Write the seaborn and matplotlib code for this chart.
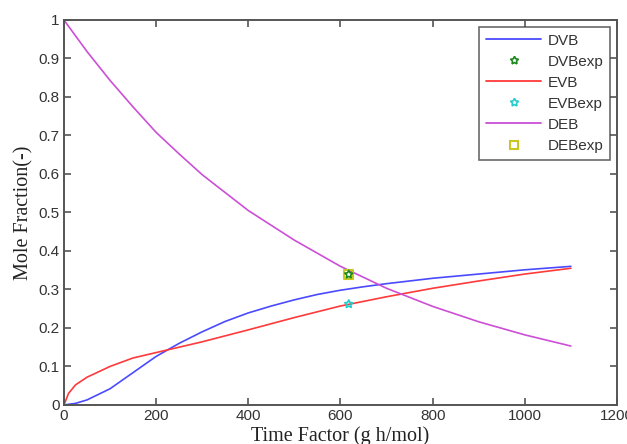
import matplotlib
matplotlib.use("Agg")
import matplotlib.pyplot as plt
from matplotlib.lines import Line2D
import numpy as np
import pandas as pd
import seaborn as sns

# Model curves: mole fraction versus time factor (g h/mol)
time_dvb = [0, 25, 50, 100, 150, 200, 250, 300, 350, 400, 450, 500, 550, 600, 650, 700, 800, 900, 1000, 1100]
dvb = [0.0, 0.004, 0.013, 0.042, 0.084, 0.126, 0.160, 0.190, 0.217, 0.239, 0.257, 0.273, 0.287, 0.298, 0.307, 0.315, 0.329, 0.340, 0.351, 0.360]

time_evb = [0, 10, 25, 50, 100, 150, 200, 250, 300, 400, 500, 600, 700, 800, 900, 1000, 1100]
evb = [0.0, 0.030, 0.052, 0.072, 0.100, 0.122, 0.136, 0.150, 0.164, 0.195, 0.227, 0.257, 0.281, 0.303, 0.322, 0.340, 0.355]

time_deb = [0, 50, 100, 150, 200, 250, 300, 400, 500, 600, 700, 800, 900, 1000, 1100]
deb = [1.0, 0.918, 0.843, 0.774, 0.708, 0.652, 0.598, 0.505, 0.428, 0.360, 0.303, 0.256, 0.216, 0.182, 0.153]

# Experimental points
exp_time = [618]
dvb_exp = [0.339]
evb_exp = [0.262]
deb_exp = [0.339]

x_ticks = [0, 200, 400, 600, 800, 1000, 1200]
x_tick_labels = ["0", "200", "400", "600", "800", "1000", "1200"]
y_ticks = [0, 0.1, 0.2, 0.3, 0.4, 0.5, 0.6, 0.7, 0.8, 0.9, 1]
y_tick_labels = ["0", "0.1", "0.2", "0.3", "0.4", "0.5", "0.6", "0.7", "0.8", "0.9", "1"]

sns.set_style("ticks")
plt.rcParams["font.family"] = ["Liberation Sans", "DejaVu Sans"]

fig = plt.figure(figsize=(6.27, 4.44), dpi=100)
ax = fig.add_axes([0.102, 0.088, 0.882, 0.867])

c_dvb = "#4a4aff"
c_evb = "#ff3a3a"
c_deb = "#cc4fd6"
c_dvb_exp = "#1a8a1a"
c_evb_exp = "#22cccc"
c_deb_exp = "#c8c820"

sns.lineplot(x=time_dvb, y=dvb, ax=ax, color=c_dvb, lw=1.2)
sns.lineplot(x=time_evb, y=evb, ax=ax, color=c_evb, lw=1.2)
sns.lineplot(x=time_deb, y=deb, ax=ax, color=c_deb, lw=1.2)

sns.scatterplot(x=exp_time, y=deb_exp, ax=ax, marker="s", s=45,
                facecolor="none", edgecolor=c_deb_exp, linewidth=1.5, zorder=4)
sns.scatterplot(x=exp_time, y=dvb_exp, ax=ax, marker=(5, 1, 0), s=35,
                facecolor="none", edgecolor=c_dvb_exp, linewidth=1.2, zorder=5)
sns.scatterplot(x=exp_time, y=evb_exp, ax=ax, marker=(5, 1, 0), s=35,
                facecolor="none", edgecolor=c_evb_exp, linewidth=1.2, zorder=5)

ax.set_xlim(0, 1200)
ax.set_ylim(0, 1)
ax.set_xticks(x_ticks)
ax.set_xticklabels(x_tick_labels)
ax.set_yticks(y_ticks)
ax.set_yticklabels(y_tick_labels)

frame_color = "#555555"
for side in ["left", "right", "top", "bottom"]:
    ax.spines[side].set_visible(True)
    ax.spines[side].set_color(frame_color)
    ax.spines[side].set_linewidth(1.4)
ax.tick_params(direction="in", length=5, width=1.2, color=frame_color,
               top=True, right=True, labelsize=11, labelcolor="#333333", pad=3)

serif = ["Liberation Serif", "DejaVu Serif"]
ax.set_xlabel("Time Factor (g h/mol)", fontsize=14.5, family=serif, color="#222222", labelpad=2)
ax.set_ylabel("Mole Fraction(-)", fontsize=14.5, family=serif, color="#222222", labelpad=4)

handles = [
    Line2D([], [], color=c_dvb, lw=1.3),
    Line2D([], [], ls="none", marker=(5, 1, 0), ms=6, mfc="none", mec=c_dvb_exp, mew=1.2),
    Line2D([], [], color=c_evb, lw=1.3),
    Line2D([], [], ls="none", marker=(5, 1, 0), ms=6, mfc="none", mec=c_evb_exp, mew=1.2),
    Line2D([], [], color=c_deb, lw=1.3),
    Line2D([], [], ls="none", marker="s", ms=6, mfc="none", mec=c_deb_exp, mew=1.5),
]
labels = ["DVB", "DVBexp", "EVB", "EVBexp", "DEB", "DEBexp"]
leg = ax.legend(handles, labels, loc="upper right", fontsize=11, frameon=True,
                fancybox=False, edgecolor="#444444", handlelength=3.6,
                handletextpad=0.4, labelspacing=0.46, borderaxespad=0.45,
                borderpad=0.45)
leg.get_frame().set_linewidth(1.2)
for t in leg.get_texts():
    t.set_color("#333333")

fig.savefig("out.png", dpi=100)
